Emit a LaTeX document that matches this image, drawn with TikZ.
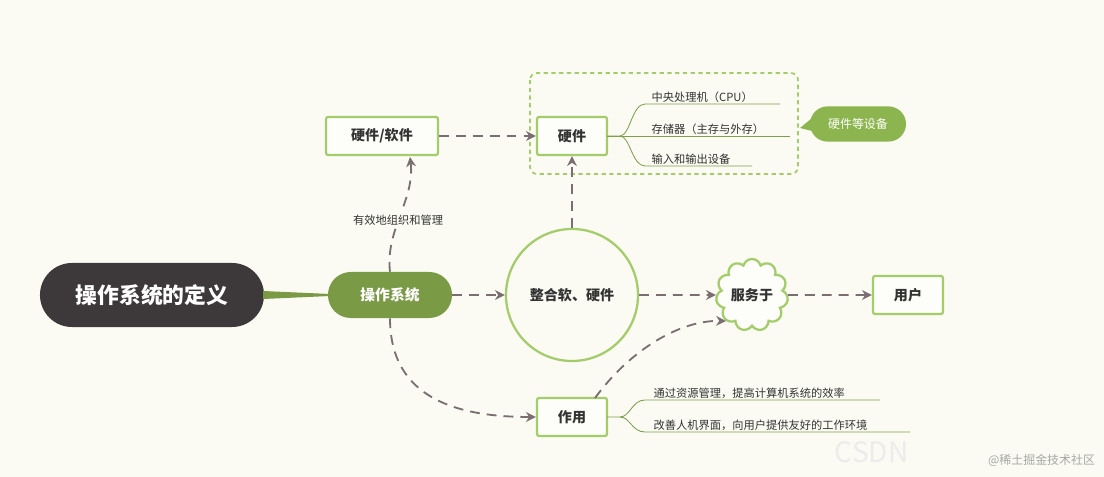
\documentclass[tikz,border=0pt]{standalone}
\usepackage{fontspec}
\setmainfont{Noto Sans CJK SC}
\usetikzlibrary{shapes.symbols,arrows.meta,positioning}
\definecolor{bgcol}{HTML}{FBFBF3}
\definecolor{leafgreen}{HTML}{A3CC6A}
\definecolor{darkgreen}{HTML}{7A9A45}
\definecolor{linegreen}{HTML}{7E9E4E}
\definecolor{arrowgray}{HTML}{7A6E72}
\definecolor{rootgray}{HTML}{3D3839}
\definecolor{tagcol}{HTML}{8DB54F}
\tikzset{
  box/.style={draw=leafgreen,line width=1.6pt,fill=white!60!bgcol,rounded corners=1.5pt,
    minimum width=1.75cm,minimum height=0.95cm,font=\fontsize{10}{12}\selectfont\bfseries,text=black!80},
  link/.style={draw=arrowgray,line width=1.3pt,dash pattern=on 7pt off 5pt,-{Stealth[length=7pt,width=7pt]}},
  branch/.style={draw=linegreen,line width=0.6pt},
  leaf/.style={anchor=south west,font=\fontsize{8}{10}\selectfont,text=black!80,inner sep=1pt}
}
\begin{document}
\begin{tikzpicture}[x=0.025cm,y=-0.025cm]
\fill[bgcol] (0,0) rectangle (1104,477);
\useasboundingbox (0,0) rectangle (1104,477);

% dashed frame round the hardware group
\draw[leafgreen,line width=1.2pt,dash pattern=on 3pt off 2.5pt,rounded corners=5pt] (530,73) rectangle (798,174);

% root and main topic
\node[fill=rootgray,rounded corners=0.8cm,minimum width=5.6cm,minimum height=1.6cm,text=white,
  font=\fontsize{15.5}{18}\selectfont\bfseries] (root) at (152,295) {操作系统的定义};
\node[fill=darkgreen,rounded corners=0.57cm,minimum width=3.1cm,minimum height=1.15cm,text=white,
  font=\fontsize{10.5}{12}\selectfont\bfseries] (os) at (390,295) {操作系统};
\fill[darkgreen] (263,291) -- (330,294) -- (330,296) -- (263,299) -- cycle;

\node[box,minimum width=2.8cm] (hs) at (382,136) {硬件/软件};
\node[box] (hw) at (572,136) {硬件};
\node[circle,draw=leafgreen,line width=1.6pt,minimum size=3.3cm,
  font=\fontsize{10}{12}\selectfont\bfseries,text=black!80] (mix) at (572,295) {整合软、硬件};
\node[cloud,cloud puffs=11,aspect=1,draw=leafgreen,line width=1.6pt,fill=white!60!bgcol,
  minimum width=1.8cm,minimum height=1.8cm,inner sep=0pt,
  font=\fontsize{10}{12}\selectfont\bfseries,text=black!80] (serve) at (752,295) {服务于};
\node[box] (user) at (908,295) {用户};
\node[box] (use) at (572,417) {作用};

% hardware leaves
\draw[branch] (607,136) -- (620,136) .. controls (630,136) and (632,104) .. (645,104) -- (780,104);
\draw[branch] (607,136) -- (790,136);
\draw[branch] (620,136) .. controls (630,136) and (632,166) .. (645,166) -- (752,166);
\node[leaf] (cpu) at (650,104) {中央处理机（CPU）};
\node[leaf] (mem) at (650,136) {存储器（主存与外存）};
\node[leaf] (io) at (650,166) {输入和输出设备};
\fill[tagcol] (812,118) -- (800,128) -- (816,132) -- cycle;
\node[fill=tagcol,rounded corners=0.44cm,minimum width=2.4cm,minimum height=0.88cm,
  text=white,font=\fontsize{8.5}{10}\selectfont] (dev) at (858,124) {硬件等设备};

% role leaves
\draw[branch] (607,417) -- (620,417) .. controls (630,417) and (632,400) .. (645,400) -- (880,400);
\draw[branch] (620,417) .. controls (630,417) and (632,432) .. (645,432) -- (910,432);
\node[leaf] (eff) at (652,400) {通过资源管理，提高计算机系统的效率};
\node[leaf] (ui) at (652,432) {改善人机界面，向用户提供友好的工作环境};

% connectors
\draw[link] (os.north) .. controls (385,230) and (415,200) .. (410,157)
  node[pos=0.45,fill=bgcol,inner sep=2pt,font=\fontsize{8}{10}\selectfont,text=black!80] (lbl) {有效地组织和管理};
\draw[link] (hs) -- (hw);
\draw[link] (os) -- (mix);
\draw[link] (mix) -- (hw);
\draw[link] (mix) -- (serve);
\draw[link] (serve) -- (user);
\draw[link] (os.south) .. controls (390,400) and (460,417) .. (use.west);
\draw[link] (595,398) .. controls (630,350) and (680,320) .. (serve.south west);

% watermark
\node[text=gray!15,font=\fontsize{20}{22}\selectfont,anchor=south west] (wm) at (830,468) {CSDN};
\node[text=gray!70,font=\fontsize{8.5}{10}\selectfont,anchor=south east] (wm2) at (1100,472) {@稀土掘金技术社区};
\end{tikzpicture}
\end{document}
